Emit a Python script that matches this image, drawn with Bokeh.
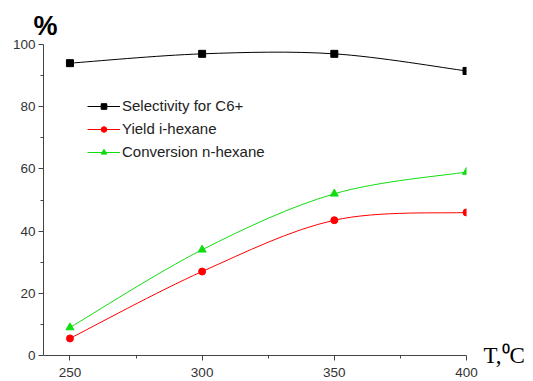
from bokeh.plotting import figure
from bokeh.models import (Range1d, Legend, LegendItem, FixedTicker, Title,
                          LinearAxis)
from bokeh.embed import file_html
from bokeh.resources import INLINE

temps = [250, 300, 350, 400]
selectivity = [94.0, 97.0, 97.0, 91.5]
yield_ihex = [5.5, 27.0, 43.5, 46.0]
conversion = [9.0, 34.0, 52.0, 59.0]

x_ticks = [250, 300, 350, 400]
y_ticks = [0, 20, 40, 60, 80, 100]


def bezier_segments(xs, ys):
    n = len(xs)
    out = dict(x0=[], y0=[], x1=[], y1=[], cx0=[], cy0=[], cx1=[], cy1=[])
    for i in range(n - 1):
        xp, yp = (xs[i - 1], ys[i - 1]) if i > 0 else (xs[i], ys[i])
        xn, yn = (xs[i + 2], ys[i + 2]) if i + 2 < n else (xs[i + 1], ys[i + 1])
        out["x0"].append(xs[i]); out["y0"].append(ys[i])
        out["x1"].append(xs[i + 1]); out["y1"].append(ys[i + 1])
        out["cx0"].append(xs[i] + (xs[i + 1] - xp) / 6)
        out["cy0"].append(ys[i] + (ys[i + 1] - yp) / 6)
        out["cx1"].append(xs[i + 1] - (xn - xs[i]) / 6)
        out["cy1"].append(ys[i + 1] - (yn - ys[i]) / 6)
    return out


p = figure(frame_width=423, frame_height=311, output_backend="svg",
           toolbar_location=None, x_range=Range1d(240, 400),
           y_range=Range1d(0, 100), min_border_left=43, min_border_top=44,
           min_border_right=67, min_border_bottom=26)
p.outline_line_color = None
p.grid.visible = False
p.background_fill_color = "white"

pct = Title(text="%", align="left", offset=-10, text_font="Liberation Sans",
            text_font_size="27px", text_font_style="bold",
            text_color="black", standoff=7)
p.add_layout(pct, "above")

series = [
    (selectivity, "black", "square", "Selectivity for C6+", 7),
    (yield_ihex, "#ff0000", "circle", "Yield i-hexane", 7),
    (conversion, "#11dd11", "triangle", "Conversion n-hexane", 8),
]
legend_items = []
for vals, color, marker, name, size in series:
    b = bezier_segments(temps, vals)
    p.bezier(source=b, x0="x0", y0="y0", x1="x1", y1="y1", cx0="cx0",
             cy0="cy0", cx1="cx1", cy1="cy1", line_color=color, line_width=1)
    p.scatter(temps, vals, marker=marker, size=size, fill_color=color,
              line_color=color)
    dl = p.line([0, 0], [0, 0], line_color=color, line_width=1)
    ds = p.scatter([0], [-50], marker=marker, size=size * 0.85,
                   fill_color=color, line_color=color)
    legend_items.append(LegendItem(label=name, renderers=[dl, ds]))

legend = Legend(items=legend_items, location=(44, 195),
                background_fill_alpha=0, border_line_color=None,
                label_text_font="Liberation Sans", label_text_font_size="15px",
                label_text_color="#222222", glyph_width=33, glyph_height=14,
                label_standoff=2, spacing=6, padding=0, margin=0,
                label_height=14)
p.add_layout(legend, "center")

for ax in (p.xaxis[0], p.yaxis[0]):
    ax.axis_line_color = "#444444"
    ax.major_tick_line_color = "#444444"
    ax.minor_tick_line_color = "#444444"
    ax.major_tick_out = 5
    ax.major_tick_in = 0
    ax.minor_tick_out = 3
    ax.minor_tick_in = 0
    ax.major_label_text_font = "Liberation Sans"
    ax.major_label_text_font_size = "13.5px"
    ax.major_label_text_color = "#333333"

p.xaxis[0].ticker = FixedTicker(ticks=x_ticks, minor_ticks=[275, 325, 375])
p.yaxis[0].ticker = FixedTicker(ticks=y_ticks,
                                minor_ticks=[10, 30, 50, 70, 90])
p.xaxis[0].major_label_standoff = 7
p.yaxis[0].major_label_standoff = 3

# x-axis title "T,°C" placed at the lower right, beside the axis end
p.extra_y_ranges = {"unit": Range1d(0, 100)}
unit_axis = LinearAxis(y_range_name="unit", ticker=FixedTicker(ticks=[0]),
                       major_label_overrides={0: "T,\u2070C"})
unit_axis.axis_line_color = None
unit_axis.major_tick_line_color = None
unit_axis.minor_tick_line_color = None
unit_axis.major_tick_out = 0
unit_axis.major_tick_in = 0
unit_axis.major_label_standoff = 17
unit_axis.major_label_text_font = "Liberation Serif"
unit_axis.major_label_text_font_size = "23px"
unit_axis.major_label_text_color = "black"
p.add_layout(unit_axis, "right")

open("out.html", "w").write(file_html(p, INLINE))
